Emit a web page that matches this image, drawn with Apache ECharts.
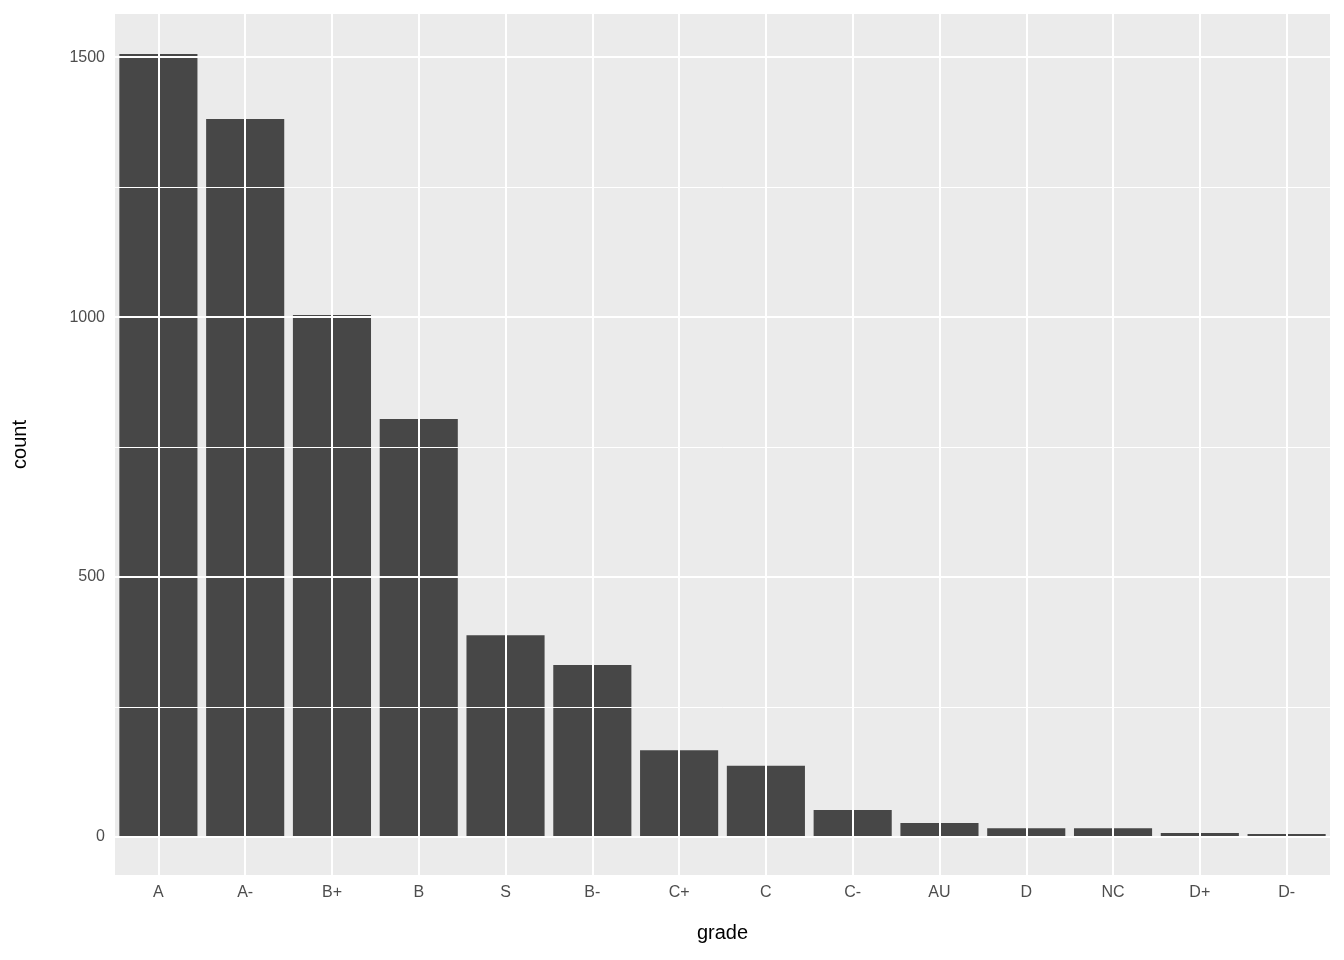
<!DOCTYPE html>
<html>
<head>
<meta charset="utf-8">
<script src="https://cdn.jsdelivr.net/npm/echarts@6/dist/echarts.min.js"></script>
<style>html,body{margin:0;background:#fff}#chart{width:1344px;height:960px}</style>
</head>
<body>
<div id="chart"></div>
<script>
// 데이터
const grades = ['A', 'A-', 'B+', 'B', 'S', 'B-', 'C+', 'C', 'C-', 'AU', 'D', 'NC', 'D+', 'D-'];
const counts = [1506, 1381, 1004, 804, 388, 331, 167, 137, 52, 27, 17, 17, 8, 6];
const majorTicks = [0, 500, 1000, 1500];
const minorTicks = [250, 750, 1250];

const font = '"Liberation Sans", Arial, sans-serif';
const chart = echarts.init(document.getElementById('chart'));

// 격자선 (markLine으로 그림)
const gridLines = [];
minorTicks.forEach((v) => gridLines.push({ yAxis: v, lineStyle: { width: 1 }, label: { show: false } }));
majorTicks.forEach((v) => gridLines.push({ yAxis: v, lineStyle: { width: 2 } }));
grades.forEach((g) => gridLines.push({ xAxis: g, lineStyle: { width: 2 }, label: { show: false } }));

chart.setOption({
    animation: false,
    grid: {
        left: 115, right: 14, top: 14, bottom: 85,
        show: true, backgroundColor: '#EBEBEB', borderWidth: 0,
    },
    xAxis: {
        type: 'category',
        data: grades,
        name: 'grade',
        nameLocation: 'middle',
        nameGap: 48,
        nameTextStyle: { fontFamily: font, fontSize: 20, color: '#000' },
        axisLine: { show: false },
        axisTick: { show: true, alignWithLabel: true, length: 5, lineStyle: { color: '#333' } },
        axisLabel: { fontFamily: font, fontSize: 16, color: '#4D4D4D', margin: 10 },
        splitLine: { show: false },
    },
    yAxis: {
        type: 'value',
        min: -73,
        max: 1583,
        name: 'count',
        nameLocation: 'middle',
        nameGap: 85,
        nameTextStyle: { fontFamily: font, fontSize: 20, color: '#000' },
        axisLine: { show: false },
        axisTick: { show: false },
        axisLabel: { show: false },
        splitLine: { show: false },
    },
    series: [
        {
            type: 'bar',
            data: [],
            z: 1,
            markLine: {
                silent: true,
                symbol: 'none',
                animation: false,
                lineStyle: { color: '#FFFFFF', type: 'solid' },
                label: {
                    position: 'start',
                    distance: 10,
                    fontFamily: font,
                    fontSize: 16,
                    color: '#4D4D4D',
                    formatter: (p) => String(p.value),
                },
                emphasis: { disabled: true },
                data: gridLines,
            },
        },
        {
            type: 'bar',
            data: counts,
            z: 3,
            barGap: '-100%',
            barCategoryGap: '10%',
            itemStyle: { color: '#474747' },
        },
    ],
});
</script>
</body>
</html>
